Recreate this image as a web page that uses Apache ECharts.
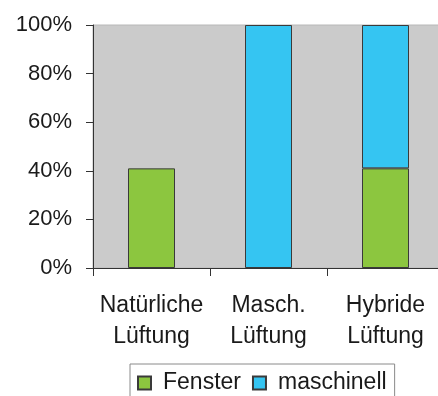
<!DOCTYPE html>
<html>
<head>
<meta charset="utf-8">
<script src="https://cdn.jsdelivr.net/npm/echarts@6/dist/echarts.min.js"></script>
<style>
  html, body { margin: 0; padding: 0; background: #ffffff; }
  #chart { width: 438px; height: 396px; }
</style>
</head>
<body>
<div id="chart"></div>
<script>
// Ventilation types (two-line labels)
const categories = ['Natürliche\nLüftung', 'Masch.\nLüftung', 'Hybride\nLüftung'];
// Share of ventilation via windows, in percent (null = no bar)
const fenster = [41, null, 41];
// Share of mechanical ventilation, in percent (null = no bar)
const maschinell = [null, 100, 59];
const yTicks = [0, 20, 40, 60, 80, 100];

const font = '"Liberation Sans", Arial, sans-serif';
const chart = echarts.init(document.getElementById('chart'), null, { renderer: 'canvas' });

chart.setOption({
  backgroundColor: '#ffffff',
  animation: false,
  grid: {
    left: 93, top: 25, width: 351, bottom: 128,
    containLabel: false,
    outerBoundsMode: 'none',
    show: true,
    backgroundColor: '#cbcbcb',
    borderColor: '#b8b8b8',
    borderWidth: 1
  },
  legend: {
    data: ['Fenster', 'maschinell'],
    icon: 'rect',
    left: 130,
    top: 364,
    itemWidth: 13,
    itemHeight: 13,
    itemGap: 11,
    padding: [6, 8, 8, 7],
    borderColor: '#8a8a8a',
    borderWidth: 1,
    textStyle: { fontFamily: font, fontSize: 23, color: '#1a1a1a', padding: [0, 0, 0, 7], lineHeight: 26 }
  },
  xAxis: {
    type: 'category',
    data: categories,
    axisLine: { lineStyle: { color: '#333333', width: 1 } },
    axisTick: { show: true, length: 8, lineStyle: { color: '#333333' } },
    axisLabel: {
      fontFamily: font, fontSize: 23, color: '#1a1a1a',
      lineHeight: 31, margin: 22, interval: 0
    }
  },
  yAxis: {
    type: 'value',
    min: yTicks[0],
    max: yTicks[yTicks.length - 1],
    interval: 20,
    axisLine: { show: true, lineStyle: { color: '#333333', width: 1 } },
    axisTick: { show: true, length: 7, lineStyle: { color: '#333333' } },
    splitLine: { show: false },
    axisLabel: {
      fontFamily: font, fontSize: 22, color: '#1a1a1a', margin: 21,
      formatter: v => v + '%'
    }
  },
  series: [
    {
      name: 'Fenster',
      type: 'bar',
      stack: 'total',
      barWidth: 47,
      data: fenster,
      itemStyle: { color: '#8cc63f', borderColor: '#3a3a3a', borderWidth: 1 }
    },
    {
      name: 'maschinell',
      type: 'bar',
      stack: 'total',
      barWidth: 47,
      data: maschinell,
      itemStyle: { color: '#35c5f2', borderColor: '#3a3a3a', borderWidth: 1 }
    }
  ]
});
</script>
</body>
</html>
